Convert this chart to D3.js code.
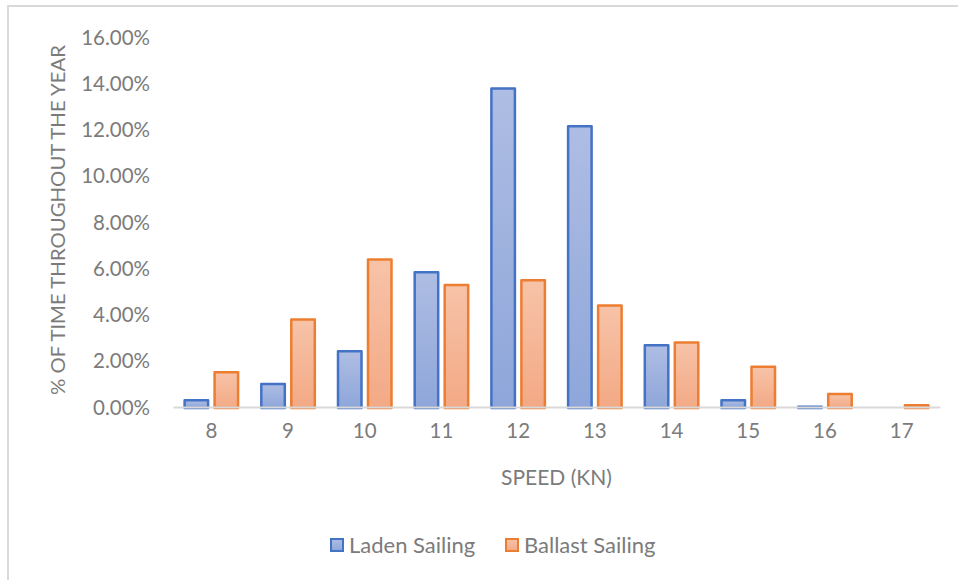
<!DOCTYPE html>
<html>
<head>
<meta charset="utf-8">
<script src="https://cdn.jsdelivr.net/npm/d3@7/dist/d3.min.js"></script>
<style>
  html, body { margin: 0; padding: 0; background: #fff; }
  svg { display: block; font-family: Lato, "Open Sans", sans-serif; }
</style>
</head>
<body>
<svg id="chart" width="958" height="580"></svg>
<script>
// Speed bins (knots)
const speeds = ["8", "9", "10", "11", "12", "13", "14", "15", "16", "17"];
// Share of time throughout the year spent at each speed
const ladenSailing   = [0.0035, 0.0105, 0.0246, 0.0588, 0.1383, 0.1219, 0.0272, 0.0035, 0.0007, 0.0000];
const ballastSailing = [0.0156, 0.0384, 0.0643, 0.0533, 0.0554, 0.0444, 0.0284, 0.0179, 0.0062, 0.0013];
const seriesNames = ["Laden Sailing", "Ballast Sailing"];
const yTicks = [0, 0.02, 0.04, 0.06, 0.08, 0.10, 0.12, 0.14, 0.16];

const series = [
  { name: seriesNames[0], values: ladenSailing,   stroke: "#4472c4", top: "#aebde3", bottom: "#8ea6da" },
  { name: seriesNames[1], values: ballastSailing, stroke: "#ed7d31", top: "#f7c3a8", bottom: "#f3a985" }
];

const svg = d3.select("#chart");
const textColor = "#7b7b7b";

// Chart frame
svg.append("rect")
  .attr("x", 8).attr("y", 6)
  .attr("width", 980).attr("height", 600)
  .attr("fill", "#fff")
  .attr("stroke", "#d9d9d9").attr("stroke-width", 2);

// Gradients for bar fills
const defs = svg.append("defs");
series.forEach((s, i) => {
  const g = defs.append("linearGradient")
    .attr("id", "grad" + i)
    .attr("x1", 0).attr("y1", 0).attr("x2", 0).attr("y2", 1);
  g.append("stop").attr("offset", "0%").attr("stop-color", s.top);
  g.append("stop").attr("offset", "100%").attr("stop-color", s.bottom);
});

const plot = { left: 173, right: 940, top: 37, bottom: 407 };

const x0 = d3.scaleBand().domain(speeds).range([plot.left, plot.right]).padding(0);
const x1 = d3.scaleBand().domain(seriesNames).range([0, x0.bandwidth()])
  .paddingInner(0.133).paddingOuter(0.345);
const y = d3.scaleLinear().domain([0, 0.16]).range([plot.bottom, plot.top]);

// Y axis labels
const yAxis = d3.axisLeft(y).tickValues(yTicks)
  .tickFormat(d => (d * 100).toFixed(2) + "%").tickSize(0).tickPadding(0);
const yg = svg.append("g").attr("transform", `translate(150,0)`).call(yAxis);
yg.select(".domain").remove();
yg.selectAll("text")
  .attr("fill", textColor).attr("font-size", 20.5)
  .attr("font-family", "Lato, sans-serif")
  .attr("dy", "0.35em");

// Bars
const sw = 2.5;
series.forEach((s, si) => {
  svg.append("g").selectAll("rect")
    .data(s.values.map((v, i) => ({ cat: speeds[i], v })))
    .join("rect")
    .attr("x", d => x0(d.cat) + x1(s.name) + sw / 2)
    .attr("width", x1.bandwidth() - sw)
    .attr("y", d => y(d.v) + sw / 2)
    .attr("height", d => Math.max(0, y(0) - y(d.v) - sw / 2 + 1))
    .attr("fill", `url(#grad${si})`)
    .attr("stroke", s.stroke)
    .attr("stroke-width", d => d.v > 0 ? sw : 0)
    .attr("stroke-linejoin", "round");
});

// Category baseline
const xAxis = d3.axisBottom(x0).tickSize(0).tickPadding(0);
const xg = svg.append("g").attr("transform", `translate(0,${plot.bottom})`).call(xAxis);
xg.select(".domain").attr("stroke", "#d9d9d9").attr("stroke-width", 2);
xg.selectAll("text")
  .attr("fill", textColor).attr("font-size", 20.5)
  .attr("font-family", "Lato, sans-serif")
  .attr("y", 31).attr("dy", "0");

// Axis titles
svg.append("text")
  .attr("x", (plot.left + plot.right) / 2).attr("y", 485)
  .attr("text-anchor", "middle")
  .attr("fill", textColor).attr("font-size", 21)
  .text("SPEED (KN)");

svg.append("text")
  .attr("transform", `translate(65,${(plot.top + plot.bottom) / 2 - 2}) rotate(-90)`)
  .attr("text-anchor", "middle")
  .attr("fill", textColor).attr("font-size", 19.5)
  .attr("textLength", 350).attr("lengthAdjust", "spacingAndGlyphs")
  .text("% OF TIME THROUGHOUT THE YEAR");

// Legend
const legendItems = [
  { s: series[0], x: 330, i: 0 },
  { s: series[1], x: 505, i: 1 }
];
const lg = svg.append("g");
legendItems.forEach(it => {
  lg.append("rect")
    .attr("x", it.x + 1).attr("y", 539)
    .attr("width", 12).attr("height", 12)
    .attr("fill", `url(#grad${it.i})`)
    .attr("stroke", it.s.stroke).attr("stroke-width", 2);
  lg.append("text")
    .attr("x", it.x + 19).attr("y", 553)
    .attr("fill", textColor).attr("font-size", 22)
    .text(it.s.name);
});
</script>
</body>
</html>
